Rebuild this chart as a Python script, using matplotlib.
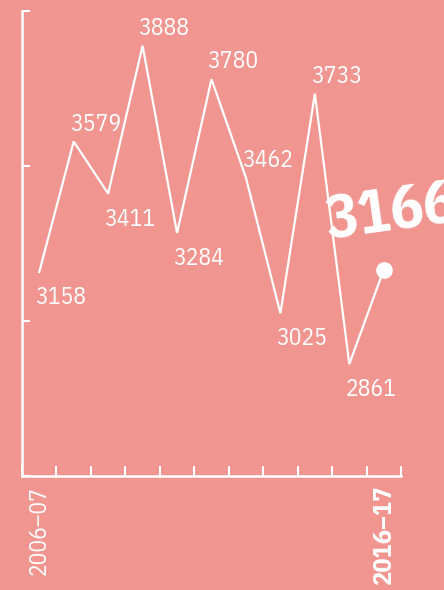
import matplotlib
matplotlib.use("Agg")
import matplotlib.pyplot as plt
import numpy as np

# Annual figures, 2006-07 to 2016-17
seasons = ["2006–07", "2007–08", "2008–09", "2009–10", "2010–11", "2011–12",
           "2012–13", "2013–14", "2014–15", "2015–16", "2016–17"]
values = [3158, 3579, 3411, 3888, 3284, 3780, 3462, 3025, 3733, 2861, 3166]
y_ticks = [2500, 3000, 3500, 4000]

BG = "#F0958F"
FG = "white"
FONT = ["IBM Plex Sans Condensed", "Fira Sans Condensed",
        "Barlow Semi Condensed", "Roboto", "DejaVu Sans"]

W, H, DPI = 444, 590, 100
fig = plt.figure(figsize=(W / DPI, H / DPI), dpi=DPI, facecolor=BG)
ax = fig.add_axes([22 / W, (H - 476) / H, (401 - 22) / W, (476 - 11) / H])
ax.set_facecolor(BG)

x = np.arange(len(values)) + 0.5
ax.plot(x, values, color=FG, lw=1.6, solid_joinstyle="miter", clip_on=False)
ax.plot(x[-1], values[-1], "o", color=FG, ms=11, clip_on=False)

ax.set_xlim(0, len(values))
ax.set_ylim(y_ticks[0], y_ticks[-1])

for side in ("top", "right"):
    ax.spines[side].set_visible(False)
for side in ("left", "bottom"):
    ax.spines[side].set_color(FG)
    ax.spines[side].set_linewidth(1.8)

# Tick marks pointing inward, no numeric labels on the value axis
ax.set_yticks(y_ticks)
ax.set_yticklabels([])
ax.tick_params(axis="y", direction="in", length=6, width=1.5, color=FG)

ax.set_xticks(np.arange(len(values) + 1), minor=True)
ax.tick_params(axis="x", which="minor", direction="in", length=7, width=1.5, color=FG)
ax.set_xticks([x[0], x[-1]])
ax.set_xticklabels([seasons[0], seasons[-1]])
ax.tick_params(axis="x", which="major", length=0, pad=7, colors=FG)
xl = ax.get_xticklabels()
xl[0].set(rotation=90, fontsize=17, family=FONT, va="top", ha="center")
xl[1].set(rotation=90, fontsize=19, family=FONT, weight="bold", va="top", ha="center")

# Value labels: above the line for high years, below for low years
threshold = np.mean(values[:-1])
for xi, v in zip(x[:-1], values[:-1]):
    above = v > threshold
    ax.annotate(f"{v}", (xi, v), xytext=(-4, 6 if above else -14),
                textcoords="offset pixels", ha="left",
                va="bottom" if above else "top",
                color=FG, fontsize=17, family=FONT, annotation_clip=False)

# Highlighted latest value
ax.annotate(f"{values[-1]}", (x[-1], values[-1]), xytext=(-54, 18),
            textcoords="offset pixels", ha="left", va="bottom",
            rotation=8, rotation_mode="anchor",
            color=FG, fontsize=44, weight="bold", family=FONT,
            annotation_clip=False)

fig.savefig("out.png", dpi=DPI, facecolor=BG)
